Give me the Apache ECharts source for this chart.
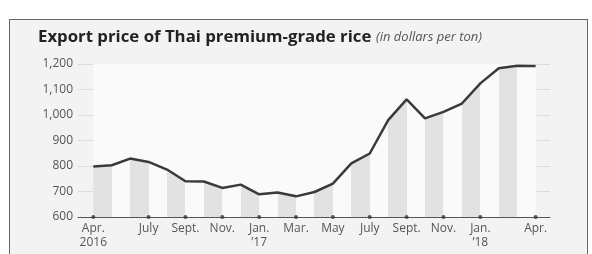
<!DOCTYPE html>
<html>
<head>
<meta charset="utf-8">
<script src="https://cdn.jsdelivr.net/npm/echarts@6/dist/echarts.min.js"></script>
<style>
  html, body { margin: 0; padding: 0; background: #fff; overflow: hidden; }
  .frame {
    position: absolute; left: 9px; top: 19px; width: 579px; height: 300px;
    box-sizing: border-box; border: 1px solid #666; background: #f3f3f3;
  }
  #chart { position: absolute; left: 0; top: 0; width: 592px; height: 254px; }
</style>
</head>
<body>
<div class="frame"></div>
<div id="chart"></div>
<script>
// months since Apr. 2016 (0) to Apr. 2018 (24)
var months = [0, 1, 2, 3, 4, 5, 6, 7, 8, 9, 10, 11, 12, 13, 14, 15, 16, 17, 18, 19, 20, 21, 22, 23, 24]
var prices = [798, 803, 829, 816, 786, 740, 739, 714, 727, 689, 696, 681, 698, 731, 810, 849, 980, 1061, 987, 1012, 1045, 1124, 1183, 1193, 1192]

var tickMonths = [0, 3, 5, 7, 9, 11, 13, 15, 17, 19, 21, 24]
var tickLabels = ['Apr.\n2016', 'July', 'Sept.', 'Nov.', 'Jan.\n\u201917', 'Mar.', 'May', 'July', 'Sept.', 'Nov.', 'Jan.\n\u201918', 'Apr.']
var yTicks = [600, 700, 800, 900, 1000, 1100, 1200]

var chart = echarts.init(document.getElementById('chart'))

var linePoints = months.map(function (m, i) { return [m, prices[i]] })

// shaded stripes: every other month gets a gray band under the line
var pieces = []
for (var m = 0; m < 24; m++) {
  pieces.push({ gte: m, lt: m + 1, color: m % 2 === 0 ? '#e2e2e2' : 'rgba(0,0,0,0)' })
}

chart.setOption({
  animation: false,
  textStyle: { fontFamily: 'Open Sans' },
  title: {
    left: 33,
    top: 23,
    text: '{b|Export price of Thai premium-grade rice} {i|(in dollars per ton)}',
    textStyle: {
      rich: {
        b: { fontFamily: 'Open Sans', fontWeight: 'bold', fontSize: 16.8, color: '#222' },
        i: { fontFamily: 'Open Sans', fontWeight: 'normal', fontStyle: 'italic', fontSize: 13, color: '#555' }
      }
    }
  },
  grid: { left: 78, right: 42, top: 64, bottom: 37 },
  visualMap: {
    show: false,
    type: 'piecewise',
    seriesIndex: 1,
    dimension: 0,
    pieces: pieces,
    outOfRange: { color: 'rgba(0,0,0,0)' }
  },
  xAxis: {
    type: 'value',
    min: -0.83,
    max: 24.78,
    splitLine: { show: false },
    axisTick: { show: false },
    axisLine: { show: true, lineStyle: { color: '#555', width: 1.2 } },
    axisLabel: {
      customValues: tickMonths,
      margin: 5,
      color: '#555',
      fontSize: 12,
      lineHeight: 14,
      formatter: function (v) {
        var i = tickMonths.indexOf(v)
        return i >= 0 ? tickLabels[i] : ''
      }
    }
  },
  yAxis: {
    type: 'value',
    min: 600,
    max: 1200,
    interval: 100,
    axisLine: { show: false },
    axisTick: { show: false },
    splitLine: { lineStyle: { color: '#dcdcdc', width: 1 } },
    axisLabel: {
      customValues: yTicks,
      margin: 5,
      color: '#555',
      fontSize: 12,
      formatter: function (v) { return v.toLocaleString('en-US') }
    }
  },
  series: [
    {
      // whiter plot background behind the gridlines
      type: 'line',
      data: [],
      z: -1,
      markArea: {
        silent: true,
        itemStyle: { color: '#fafafa' },
        data: [[{ coord: [0, 600] }, { coord: [24, 1200] }]]
      }
    },
    {
      type: 'line',
      data: linePoints,
      symbol: 'none',
      lineStyle: { opacity: 0, width: 0 },
      areaStyle: { opacity: 1 },
      z: 2
    },
    {
      type: 'line',
      data: linePoints,
      symbol: 'none',
      lineStyle: { color: '#3a3a3a', width: 2.5 },
      itemStyle: { color: '#3a3a3a' },
      z: 4
    },
    {
      type: 'scatter',
      data: tickMonths.map(function (m) { return [m, 600] }),
      symbolSize: 4,
      itemStyle: { color: '#333' },
      clip: false,
      silent: true,
      z: 5
    }
  ]
})
</script>
</body>
</html>
